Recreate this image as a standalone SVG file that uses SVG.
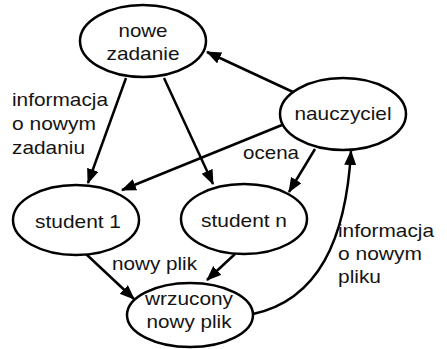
<svg xmlns="http://www.w3.org/2000/svg" width="447" height="349" viewBox="0 0 447 349">
  <style>
    .node ellipse { fill: #ffffff; stroke: #000000; stroke-width: 2.5; }
    text { font-family: "Liberation Sans", Arial, sans-serif; font-size: 19px; fill: #141414; }
    .c { text-anchor: middle; }
    .edge { fill: none; stroke: #000000; stroke-width: 2.5; marker-end: url(#arrow); }
  </style>
  <defs>
    <marker id="arrow" markerUnits="userSpaceOnUse" markerWidth="16" markerHeight="13" refX="14" refY="6" orient="auto">
      <path d="M0,0 L15,6 L0,12 Z" fill="#000000"/>
    </marker>
  </defs>
  <rect width="447" height="349" fill="#ffffff"/>

  <g id="edges">
    <path class="edge" d="M293,92 L207,52"/>
    <path class="edge" d="M126,78 L88,183"/>
    <path class="edge" d="M164,78 L213,184"/>
    <path class="edge" d="M282,125 L122,190"/>
    <path class="edge" d="M315,149 L289,192"/>
    <path class="edge" d="M86,254 L134,299"/>
    <path class="edge" d="M235,254 L207,280"/>
    <path class="edge" d="M253,314 C318,300 346,240 351,151"/>
  </g>

  <g id="edge-labels">
    <text x="12" y="106" textLength="96" lengthAdjust="spacingAndGlyphs">informacja</text>
    <text x="12" y="130" textLength="84" lengthAdjust="spacingAndGlyphs">o nowym</text>
    <text x="12" y="154" textLength="73" lengthAdjust="spacingAndGlyphs">zadaniu</text>
    <text x="243" y="159" textLength="56" lengthAdjust="spacingAndGlyphs">ocena</text>
    <text x="112" y="270" textLength="85" lengthAdjust="spacingAndGlyphs">nowy plik</text>
    <text x="338" y="237" textLength="96" lengthAdjust="spacingAndGlyphs">informacja</text>
    <text x="338" y="260" textLength="84" lengthAdjust="spacingAndGlyphs">o nowym</text>
    <text x="338" y="283" textLength="43" lengthAdjust="spacingAndGlyphs">pliku</text>
  </g>

  <g id="nowe-zadanie" class="node">
    <ellipse cx="143" cy="41" rx="63" ry="36"/>
    <text class="c" x="143" y="37" textLength="49" lengthAdjust="spacingAndGlyphs">nowe</text>
    <text class="c" x="143" y="60" textLength="73" lengthAdjust="spacingAndGlyphs">zadanie</text>
  </g>

  <g id="nauczyciel" class="node">
    <ellipse cx="343" cy="114" rx="63" ry="36"/>
    <text class="c" x="343" y="120" textLength="97" lengthAdjust="spacingAndGlyphs">nauczyciel</text>
  </g>

  <g id="student-1" class="node">
    <ellipse cx="76" cy="220" rx="63" ry="35"/>
    <text class="c" x="78" y="228" textLength="86" lengthAdjust="spacingAndGlyphs">student 1</text>
  </g>

  <g id="student-n" class="node">
    <ellipse cx="244" cy="219" rx="63" ry="35"/>
    <text class="c" x="244" y="227" textLength="86" lengthAdjust="spacingAndGlyphs">student n</text>
  </g>

  <g id="wrzucony-nowy-plik" class="node">
    <ellipse cx="190" cy="315" rx="63" ry="32"/>
    <text class="c" x="189" y="305" textLength="88" lengthAdjust="spacingAndGlyphs">wrzucony</text>
    <text class="c" x="189" y="328" textLength="85" lengthAdjust="spacingAndGlyphs">nowy plik</text>
  </g>
</svg>
